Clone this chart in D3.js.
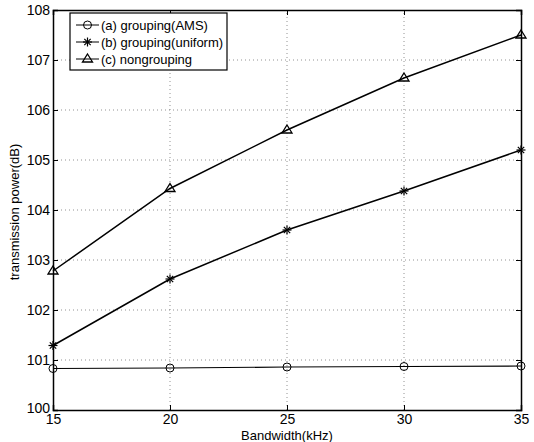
<!DOCTYPE html>
<html>
<head>
<meta charset="utf-8">
<script src="https://cdn.jsdelivr.net/npm/d3@7"></script>
<style>
body { margin: 0; background: #fff; }
text { font-family: "Liberation Sans", Arial, sans-serif; }
</style>
</head>
<body>
<div id="chart"></div>
<script>
// values
const bandwidth = [15, 20, 25, 30, 35]
const ams = [100.83, 100.84, 100.86, 100.87, 100.88]
const uniform = [101.29, 102.62, 103.6, 104.38, 105.2]
const nongrouping = [102.78, 104.43, 105.6, 106.64, 107.5]
const xTicks = [15, 20, 25, 30, 35]
const yTicks = [100, 101, 102, 103, 104, 105, 106, 107, 108]
const names = ['(a) grouping(AMS)', '(b) grouping(uniform)', '(c) nongrouping']

const width = 534,
height = 442

const svg = d3.select('#chart')
  .append('svg')
  .attr('width', width)
  .attr('height', height)

const x = d3.scaleLinear().domain([15, 35]).range([53, 521])
const y = d3.scaleLinear().domain([100, 108]).range([410, 10])

// grid
svg.append('g')
  .selectAll('line')
  .data(xTicks.slice(1, -1))
  .enter()
  .append('line')
  .attr('x1', d => x(d)).attr('x2', d => x(d))
  .attr('y1', y(100)).attr('y2', y(108))
  .attr('stroke', '#777').attr('stroke-width', 0.8)
  .attr('stroke-dasharray', '1,3')

svg.append('g')
  .selectAll('line')
  .data(yTicks.slice(1, -1))
  .enter()
  .append('line')
  .attr('x1', x(15)).attr('x2', x(35))
  .attr('y1', d => y(d)).attr('y2', d => y(d))
  .attr('stroke', '#777').attr('stroke-width', 0.8)
  .attr('stroke-dasharray', '1,3')

// axes
const xAxis = d3.axisBottom(x).tickValues(xTicks).tickSize(-5).tickPadding(4)
const yAxis = d3.axisLeft(y).tickValues(yTicks).tickSize(-5).tickPadding(3)

const gx = svg.append('g')
  .attr('transform', `translate(0,${y(100)})`)
  .call(xAxis)
const gy = svg.append('g')
  .attr('transform', `translate(${x(15)},0)`)
  .call(yAxis)

svg.append('g')
  .attr('transform', `translate(0,${y(108)})`)
  .call(d3.axisTop(x).tickValues(xTicks).tickSize(-5).tickFormat(''))
svg.append('g')
  .attr('transform', `translate(${x(35)},0)`)
  .call(d3.axisRight(y).tickValues(yTicks).tickSize(-5).tickFormat(''))

svg.selectAll('.domain').attr('stroke', '#000').attr('stroke-width', 1.5)
svg.selectAll('.tick line').attr('stroke', '#000')
svg.selectAll('.tick text')
  .attr('fill', '#000')
  .style('font-size', '14px')
// lift the corner label a little so it clears the first x label
gy.selectAll('.tick text').filter(d => d === 100).attr('dy', '0.2em')

// labels
svg.append('text')
  .attr('x', (x(15) + x(35)) / 2)
  .attr('y', 440)
  .attr('text-anchor', 'middle')
  .style('font-size', '13px')
  .text('Bandwidth(kHz)')

svg.append('text')
  .attr('transform', `translate(19,${(y(100) + y(108)) / 2 + 2}) rotate(-90)`)
  .attr('text-anchor', 'middle')
  .style('font-size', '13px')
  .text('transmission power(dB)')

// markers
const marker = (g, kind, cx, cy) => {
  if (kind === 0) {
    g.append('circle').attr('cx', cx).attr('cy', cy).attr('r', 4)
      .attr('fill', 'none').attr('stroke', '#000').attr('stroke-width', 1)
  } else if (kind === 1) {
    const r = 4.5
    for (let a = 0; a < 4; a++) {
      const t = a * Math.PI / 4
      g.append('line')
        .attr('x1', cx - r * Math.cos(t)).attr('y1', cy - r * Math.sin(t))
        .attr('x2', cx + r * Math.cos(t)).attr('y2', cy + r * Math.sin(t))
        .attr('stroke', '#000').attr('stroke-width', 1.2)
    }
  } else {
    g.append('path')
      .attr('d', `M${cx},${cy - 5}L${cx + 5},${cy + 3}L${cx - 5},${cy + 3}Z`)
      .attr('fill', 'none').attr('stroke', '#000').attr('stroke-width', 1.3)
  }
}

const series = [ams, uniform, nongrouping]
const line = d3.line().x((d, i) => x(bandwidth[i])).y(d => y(d))

series.forEach((s, k) => {
  const g = svg.append('g')
  g.append('path')
    .datum(s)
    .attr('d', line)
    .attr('fill', 'none')
    .attr('stroke', '#000')
    .attr('stroke-width', k === 0 ? 1.2 : 1.5)
  s.forEach((d, i) => marker(g, k, x(bandwidth[i]), y(d)))
})

// legend
const lg = svg.append('g')
lg.append('rect')
  .attr('x', 70).attr('y', 13).attr('width', 157).attr('height', 57)
  .attr('fill', '#fff').attr('stroke', '#000').attr('stroke-width', 1.2)

names.forEach((n, k) => {
  const ly = 25 + k * 17
  lg.append('line')
    .attr('x1', 76).attr('x2', 99).attr('y1', ly).attr('y2', ly)
    .attr('stroke', '#000').attr('stroke-width', 1)
  marker(lg, k, 87.5, ly)
  lg.append('text')
    .attr('x', 101).attr('y', ly + 4.5)
    .style('font-size', '13px')
    .text(n)
})
</script>
</body>
</html>
